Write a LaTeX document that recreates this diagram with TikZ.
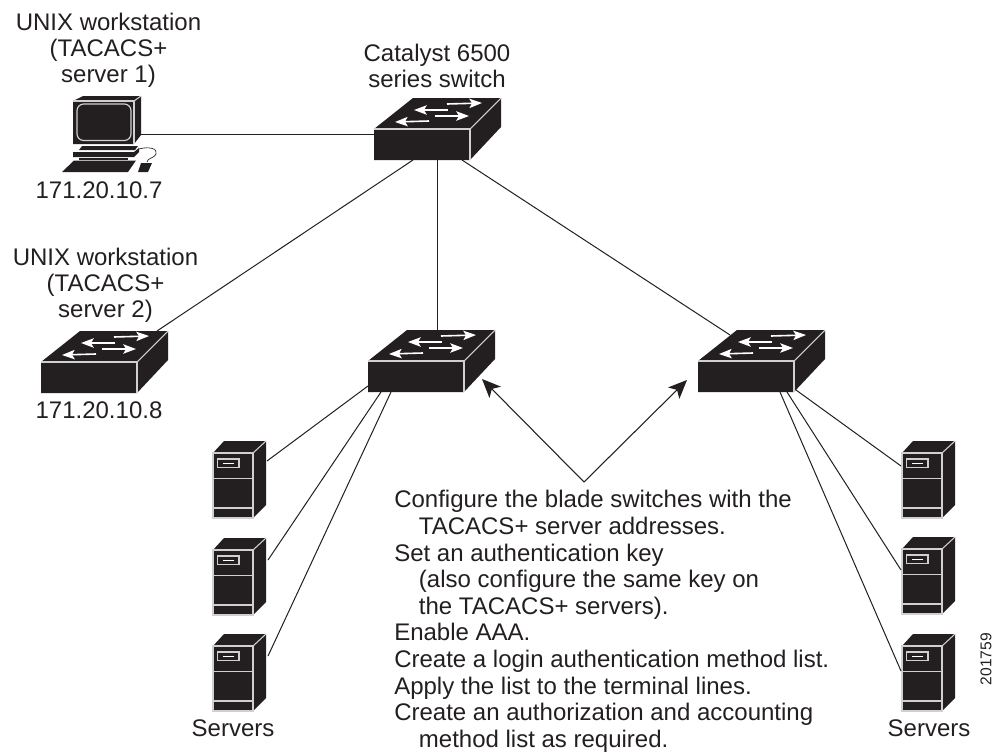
\documentclass[tikz,border=0pt]{standalone}
\usepackage{fontspec}
\setmainfont{Liberation Sans}
\usetikzlibrary{arrows.meta,calc}
\definecolor{ink}{HTML}{231F20}
\definecolor{edge}{HTML}{D0D0D0}
\tikzset{
  x=0.75pt,y=-0.75pt,
  label text/.style={text=ink,font=\fontsize{18}{19.5}\selectfont,align=center,inner sep=0pt},
  note text/.style={text=ink,font=\fontsize{18}{19.95}\selectfont,align=left,inner sep=0pt},
  link/.style={draw=ink,line width=0.75pt},
  pointer/.style={draw=ink,line width=0.8pt,-{Stealth[length=14pt,width=12pt,inset=3.5pt]}},
  rim/.style={draw=edge,line width=0.8pt},
  glyph/.style={draw=white,line width=1.2pt,-{Stealth[length=9.5pt,width=7pt,inset=2pt,fill=white]}},
  anchorbox/.style={inner sep=0pt,outer sep=0pt,minimum width=0pt,minimum height=0pt,draw=none,fill=none},
}
\newcommand{\swnode}[3]{%
  \node[anchorbox,minimum width=72pt,minimum height=23.25pt,anchor=north west] (#1) at (#2,#3) {};
  \begin{scope}[shift={(#2,#3)}]
    \fill[ink] (0,0) -- (39,-31) -- (127,-31) -- (127,-2) -- (96,31) -- (0,31) -- cycle;
    \draw[rim] (0,0) -- (96,0) -- (96,31);
    \draw[rim] (96,0) -- (127,-31);
    \draw[glyph] (73,-25) -- (108,-26);
    \draw[glyph] (74,-19) -- (40,-19);
    \draw[glyph] (61,-13) -- (95,-13);
    \draw[glyph] (55,-8) -- (21,-7);
  \end{scope}}
\newcommand{\srvnode}[3]{%
  \node[anchorbox,minimum width=30pt,minimum height=48.75pt,anchor=north west] (#1) at (#2,#3) {};
  \begin{scope}[shift={(#2,#3)}]
    \fill[ink] (0,0) -- (11,-12) -- (53,-12) -- (53,52) -- (40,65) -- (0,65) -- cycle;
    \draw[rim] (0,65) -- (0,0) -- (40,0) -- (40,65) -- cycle;
    \draw[rim] (40,0) -- (53,-12);
    \draw[rim,line width=0.9pt] (0,25.5) -- (40,25.5);
    \draw[rim,line width=0.9pt] (0,55) -- (40,55);
    \draw[rim,line width=0.8pt] (4.5,6) rectangle (26,14.7);
    \draw[draw=white,line width=0.8pt] (10,10.4) -- (21,10.4);
  \end{scope}}
\begin{document}
\begin{tikzpicture}
\useasboundingbox (0,0) rectangle (993,753);
% workstation
\node[anchorbox,minimum width=45pt,minimum height=32pt,anchor=north west] (pc) at (73,101) {};
\fill[ink] (73,101) -- (83,96) -- (141,96) -- (141,135) -- (134,144) -- (73,144) -- cycle;
\draw[rim] (73,101) -- (134,101) -- (134,144);
\draw[rim] (134,101) -- (141,96);
\draw[rim,line width=0.9pt,rounded corners=5pt] (77,104) rectangle (131,140.5);
\fill[ink] (82,146) -- (138,146) -- (135,150) -- (79,150) -- cycle;
\fill[ink] (73,152) -- (134,152) -- (139,148) -- (139,152) -- (134,157) -- (73,157) -- cycle;
\fill[ink] (79,158) -- (128,158) -- (128,160) -- (79,160) -- cycle;
\fill[ink] (74,160.5) -- (136,160.5) -- (128,172) -- (62,172) -- cycle;
\draw[draw=ink,line width=0.5pt] (139,149) .. controls (150,146) and (158,149) .. (156,154) .. controls (155,158) and (147,158) .. (147,162);
\fill[ink] (141,163) -- (152,163) -- (148,172) -- (138,172) -- cycle;
% switches
\swnode{swtop}{374}{129}
\swnode{swleft}{41}{362}
\swnode{swmid}{368}{361}
\swnode{swright}{698}{361}
% servers
\srvnode{srvla}{213}{453}
\srvnode{srvlb}{213}{550}
\srvnode{srvlc}{213}{646}
\srvnode{srvra}{902}{453}
\srvnode{srvrb}{902}{549}
\srvnode{srvrc}{902}{646}
% connectors
\draw[link] ($(pc.north east)+(8,33)$) -- ($(swtop.north west)+(0,5)$);
\draw[link] ($(swtop.south west)+(39,0)$) -- ($(swleft.north west)+(116,-31)$);
\draw[link] ($(swtop.south west)+(63,0)$) -- ($(swmid.north west)+(69,-31)$);
\draw[link] ($(swtop.south east)+(-8,0)$) -- ($(swright.north west)+(32,-26)$);
\draw[link] ($(swmid.south west)+(0,-6)$) -- ($(srvla.north east)+(14,8)$);
\draw[link] ($(swmid.south west)+(13,0)$) -- ($(srvlb.north east)+(15,10)$);
\draw[link] ($(swmid.south west)+(23,0)$) -- ($(srvlc.north east)+(15,10)$);
\draw[link] ($(swright.south east)+(2,-2)$) -- ($(srvra.north west)+(-1,13)$);
\draw[link] ($(swright.south west)+(89,0)$) -- ($(srvrb.north west)+(-1,21)$);
\draw[link] ($(swright.south west)+(82,0)$) -- ($(srvrc.north west)+(-1,25)$);
% callout
\coordinate (apex) at (584,482);
\draw[pointer] (apex) -- ($(swmid.south east)+(18,-13)$);
\draw[pointer] (apex) -- ($(swright.south west)+(-11,-12)$);
% labels
\node[label text] (lblA) at (108.5,50) {UNIX workstation\\(TACACS+\\server 1)};
\node[label text] (lblB) at (99,190) {171.20.10.7};
\node[label text] (lblC) at (437,65.5) {Catalyst 6500\\series switch};
\node[label text] (lblD) at (105.5,285) {UNIX workstation\\(TACACS+\\server 2)};
\node[label text] (lblE) at (99,410) {171.20.10.8};
\node[label text] (lblF) at (233,728) {Servers};
\node[label text] (lblG) at (929,728) {Servers};
\node[text=ink,font=\fontsize{11.7}{12}\selectfont,rotate=90,inner sep=0pt] (lblH) at (986,659) {201759};
\node[note text,anchor=south west] (note) at (394,752.5) {Configure the blade switches with the\\
\hspace*{18.5pt}TACACS+ server addresses.\\
Set an authentication key\\
\hspace*{18.5pt}(also configure the same key on\\
\hspace*{18.5pt}the TACACS+ servers).\\
Enable AAA.\\
Create a login authentication method list.\\
Apply the list to the terminal lines.\\
Create an authorization and accounting\\
\hspace*{18.5pt}method list as required.};
\end{tikzpicture}
\end{document}
